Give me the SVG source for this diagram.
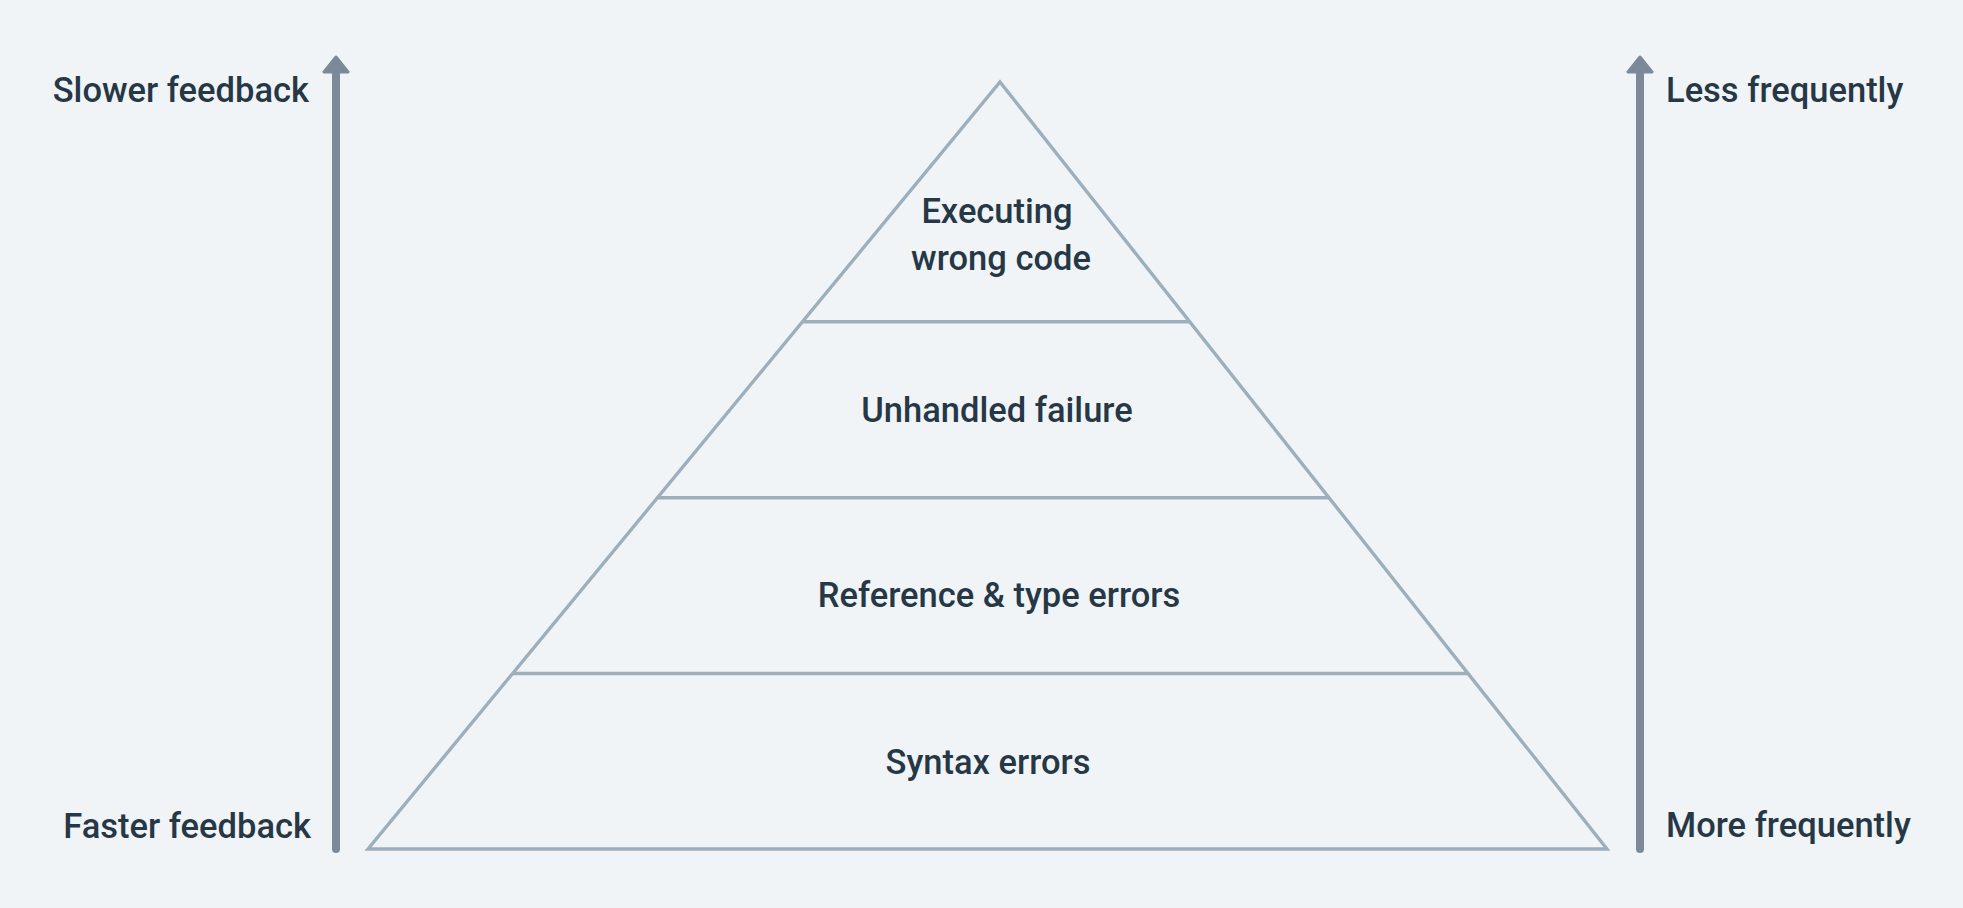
<svg xmlns="http://www.w3.org/2000/svg" width="1963" height="908" viewBox="0 0 1963 908">
<style>
.bg{fill:#f0f4f7}
.pyr{fill:none;stroke:#9dafbd;stroke-width:3.4;stroke-linejoin:miter}
.axis{fill:none;stroke:#7b8999;stroke-width:8;stroke-linecap:round}
.head{fill:#7b8999;stroke:#7b8999;stroke-width:3;stroke-linejoin:round}
text{font-family:Roboto,"Liberation Sans",sans-serif;font-size:34.5px;font-weight:500;fill:#263746}
.c{text-anchor:middle}
.r{text-anchor:end}
</style>
<rect class="bg" x="0" y="0" width="1963" height="908"/>
<g id="connectors">
<line class="axis" x1="336" y1="849" x2="336" y2="70"/>
<polygon class="head" points="336,57 348,72 324,72"/>
<line class="axis" x1="1640" y1="849" x2="1640" y2="70"/>
<polygon class="head" points="1640,57 1652,72 1628,72"/>
</g>
<g id="pyramid">
<polygon class="pyr" points="1000,82 1607,849 368,849"/>
</g>
<g id="level-executing">
<line class="pyr" x1="802" y1="321.7" x2="1190" y2="321.7"/>
<text class="c" x="997" y="222.7">Executing</text>
<text class="c" x="1001" y="270">wrong code</text>
</g>
<g id="level-unhandled">
<line class="pyr" x1="657" y1="497.7" x2="1329" y2="497.7"/>
<text class="c" x="997" y="422.3">Unhandled failure</text>
</g>
<g id="level-reference">
<line class="pyr" x1="512.6" y1="673.5" x2="1468.2" y2="673.5"/>
<text class="c" x="999" y="606.5">Reference &amp; type errors</text>
</g>
<g id="level-syntax">
<text class="c" x="988" y="774">Syntax errors</text>
</g>
<g id="labels">
<text class="r" x="309" y="102">Slower feedback</text>
<text class="r" x="311" y="838">Faster feedback</text>
<text x="1666" y="102">Less frequently</text>
<text x="1666" y="837">More frequently</text>
</g>
</svg>
